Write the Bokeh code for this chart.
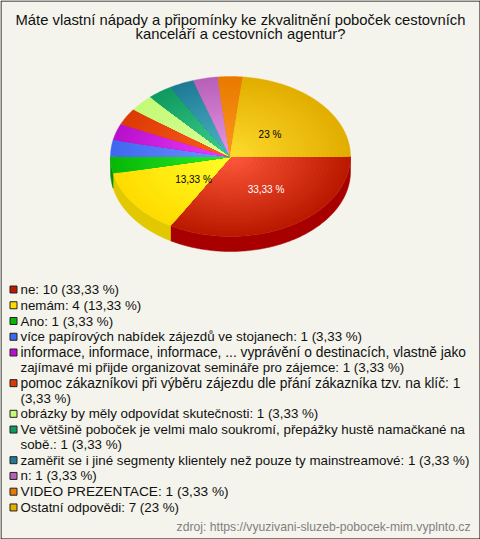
import numpy as np
from bokeh.plotting import figure
from bokeh.models import Range1d
from bokeh.core.properties import value
from bokeh.embed import file_html
from bokeh.resources import INLINE

W, H = 480, 539
FONT = value("Liberation Sans")

title_lines = ["Máte vlastní nápady a připomínky ke zkvalitnění poboček cestovních",
               "kanceláří a cestovních agentur?"]
counts = [10, 4, 1, 1, 1, 1, 1, 1, 1, 1, 1, 7]
legend_lines = [
    ["ne: 10 (33,33 %)"],
    ["nemám: 4 (13,33 %)"],
    ["Ano: 1 (3,33 %)"],
    ["více papírových nabídek zájezdů ve stojanech: 1 (3,33 %)"],
    ["informace, informace, informace, ... vyprávění o destinacích, vlastně jako",
     "zajímavé mi přijde organizovat semináře pro zájemce: 1 (3,33 %)"],
    ["pomoc zákazníkovi při výběru zájezdu dle přání zákazníka tzv. na klíč: 1",
     "(3,33 %)"],
    ["obrázky by měly odpovídat skutečnosti: 1 (3,33 %)"],
    ["Ve většině poboček je velmi malo soukromí, přepážky hustě namačkané na",
     "sobě.: 1 (3,33 %)"],
    ["zaměřit se i jiné segmenty klientely než pouze ty mainstreamové: 1 (3,33 %)"],
    ["n: 1 (3,33 %)"],
    ["VIDEO PREZENTACE: 1 (3,33 %)"],
    ["Ostatní odpovědi: 7 (23 %)"],
]
# the reference's hinted text runs a little wider on these lines
wide_lines = {"informace, informace": "13.8px", "pomoc zákazníkovi": "13.8px", "VIDEO": "13.7px"}
source_text = "zdroj: https://vyuzivani-sluzeb-pobocek-mim.vyplnto.cz"
edge_colors = ["#bb1a00", "#ffdc00", "#08b808", "#3f68f0", "#b810cc", "#dc3a04",
               "#c4fa78", "#0f9a60", "#1f7a96", "#b860b8", "#e87a00", "#e2ae00"]
centre_colors = ["#ff5a3c", "#ffff28", "#28f028", "#7098ff", "#f040ff", "#ff6020",
                 "#d8ff98", "#40d090", "#50b8c8", "#e898e8", "#ff9820", "#ffdc30"]
side_colors = ["#a80000", "#e2c800", "#009000"]
pct_labels = [("33,33 %", 265.5, 189, "#ffffff"), ("13,33 %", 193, 179, "#000000"),
              ("23 %", 269.5, 134, "#000000")]
BG = "#f4f4ec"

cx, cy, rx, ry, depth = 230, 156, 120, 80, 15


def rgb(h):
    return np.array([int(h[i:i + 2], 16) for i in (1, 3, 5)], float)


def mix(a, b, t):
    c = rgb(a) * (1 - t) + rgb(b) * t
    return "#%02x%02x%02x" % tuple(int(round(v)) for v in c)


p = figure(width=W, height=H, x_range=Range1d(0, W), y_range=Range1d(H, 0),
           output_backend="svg", toolbar_location=None, min_border=0,
           background_fill_color=BG, border_fill_color=BG, outline_line_color=None)
p.axis.visible = False
p.grid.visible = False

edges = np.cumsum([0] + counts) / sum(counts) * 2 * np.pi


def arc(a0, a1):
    n = max(2, int((a1 - a0) * 60))
    return np.linspace(a0, a1, n)


# side wall of the near half
for i, side in enumerate(side_colors):
    a0, a1 = edges[i], min(edges[i + 1], np.pi)
    t = arc(a0, a1)
    xs = cx + rx * np.cos(t)
    ys = cy + ry * np.sin(t)
    p.patch(np.r_[xs, xs[::-1]], np.r_[ys, ys[::-1] + depth], color=side, line_width=0.5)

# top face: nested sectors paint the radial shading
for i in range(len(counts)):
    t = arc(edges[i], edges[i + 1])
    for f in np.linspace(1, 0.04, 30):
        col = mix(edge_colors[i], centre_colors[i], 1 - f)
        p.patch(np.r_[cx, cx + f * rx * np.cos(t)], np.r_[cy, cy + f * ry * np.sin(t)],
                fill_color=col, line_color=col, line_width=0.4)

for txt, x, y, col in pct_labels:
    p.text([x], [y], text=[txt], text_font=FONT, text_font_size="10px", text_color=col,
           text_align="center", text_baseline="middle")

# title
for k, line in enumerate(title_lines):
    p.text([240], [19.5 + 14 * k], text=[line], text_font=FONT, text_font_size="14.8px",
           text_color="#111111", text_align="center", text_baseline="middle")

# legend
y = 289
for lines, ec in zip(legend_lines, edge_colors):
    p.quad(left=[9.5], right=[16.5], top=[y - 3.5], bottom=[y + 3.5], fill_color=ec,
           line_color="#222222", line_width=1)
    for j, line in enumerate(lines):
        size = next((s for k, s in wide_lines.items() if line.startswith(k)), "13.33px")
        p.text([20], [y + j * 14.9], text=[line], text_font=FONT, text_font_size=size,
               text_color="#111111", text_align="left", text_baseline="middle")
    y += 14.9 * (len(lines) - 1) + 15.75

p.text([470], [526], text=[source_text], text_font=FONT, text_font_size="12.2px",
       text_color="#808080", text_align="right", text_baseline="middle")

# frame
p.quad(left=[0.5], right=[W - 0.5], top=[0.5], bottom=[H - 0.5], fill_color=None,
       line_color="#000000", line_width=1)

html = file_html(p, INLINE)
html = html.replace("<head>", "<head><style>html,body{margin:0;padding:0;overflow:hidden}</style>", 1)
open("out.html", "w").write(html)
